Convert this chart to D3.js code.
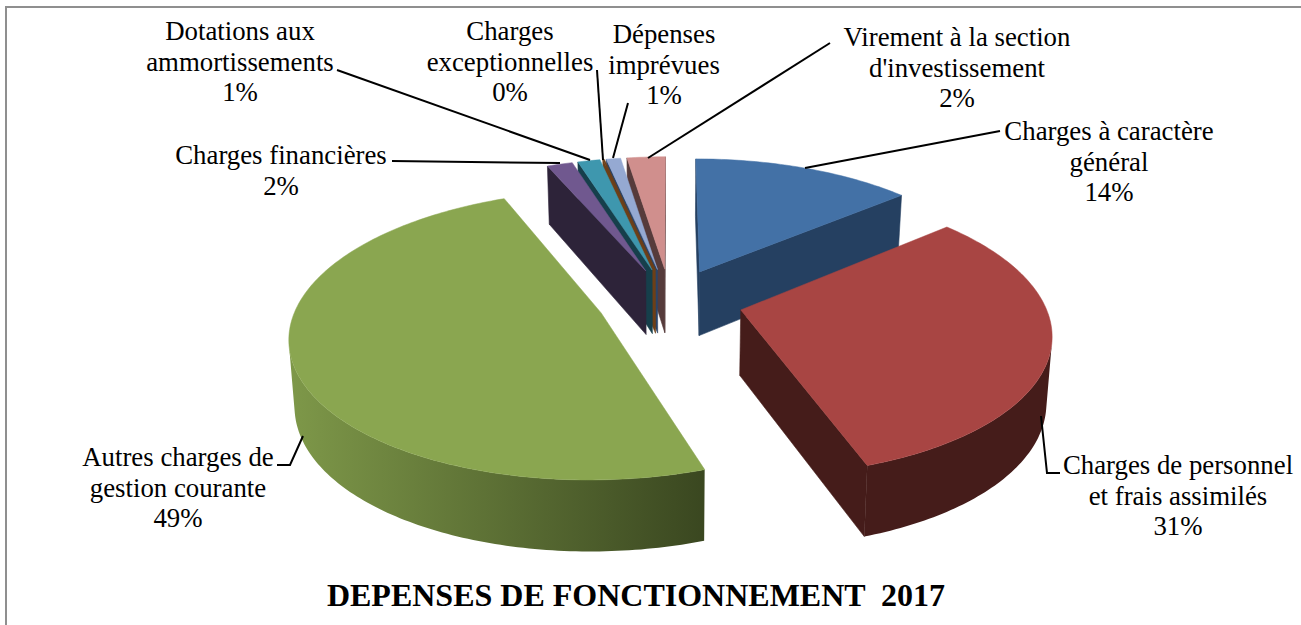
<!DOCTYPE html>
<html>
<head>
<meta charset="utf-8">
<style>
  html, body { margin: 0; padding: 0; background: #fff; }
  svg { display: block; }
  text { font-family: "Liberation Serif", serif; fill: #000; }
</style>
</head>
<body>
<svg id="ch" width="1301" height="625"></svg>
<script src="https://cdn.jsdelivr.net/npm/d3@7/dist/d3.min.js"></script>
<script>
// Depenses de fonctionnement 2017, exploded 3D pie

const categories = [
  ["Charges à caractère", "général"],
  ["Charges de personnel", "et frais assimilés"],
  ["Autres charges de", "gestion courante"],
  ["Charges financières"],
  ["Dotations aux", "ammortissements"],
  ["Charges", "exceptionnelles"],
  ["Dépenses", "imprévues"],
  ["Virement à la section", "d'investissement"]
];
const values = [13.8, 31.0, 48.8, 1.6, 1.4, 0.1, 0.9, 2.4];
const topColors = ["#4371a6", "#a84543", "#8aa650", "#70588f", "#3e97ae", "#6d3f17", "#95a9d2", "#d08f8d"];
const sideColors = [
  ["#254061", "#254061"],
  ["#451c1a", "#451c1a"],
  ["#7e9849", "#3a4720"],
  ["#2d2339", "#2d2339"],
  ["#163f4b", "#163f4b"],
  ["#6d3f17", "#6d3f17"],
  ["#2b4468", "#2b4468"],
  ["#563b3b", "#563b3b"]
];
const titleText = "DEPENSES DE FONCTIONNEMENT  2017";

/* Label placement: centre x, first baseline, leader polyline */
const labelLayout = [
  { x: 1109, y: 140, lead: [[1000, 131], [805, 168]] },
  { x: 1178, y: 474, lead: [[1060, 473], [1047, 473], [1041, 416]] },
  { x: 178, y: 466, lead: [[277, 465], [290, 465], [303, 436]] },
  { x: 281, y: 164, lead: [[392, 161], [560, 163]] },
  { x: 240, y: 40, lead: [[337, 70], [590, 160]] },
  { x: 510, y: 40, lead: [[597, 70], [603, 160]] },
  { x: 664, y: 43, lead: [[628, 103], [613, 158]] },
  { x: 957, y: 46, lead: [[830, 43], [648, 158]] }
];

const width = 1301;
const height = 625;

/* Camera for the tilted pie */
const centerX = 670;
const centerY = 301;
const radiusX = 303;
const radiusY = 138;
const persp = 0.15;
const explode = 0.24;
const depthBase = 65;
const depthSlope = 6;
const lean = 0.015;

const svg = d3.select("#ch");

/* Frame */
svg.append("path")
  .attr("d", "M6,625V7H1301")
  .attr("fill", "none")
  .attr("stroke", "#8f8f8f")
  .attr("stroke-width", 2);

const pie = d3.pie().sort(null).value((d) => d);
const arcs = pie(values);

const xScale = d3.scaleLinear().domain([-1, 1]).range([centerX - radiusX, centerX + radiusX]);
const yScale = d3.scaleLinear().domain([-1, 1]).range([centerY + radiusY, centerY - radiusY]);

const project = (u, v, z) => {
  const w = 1 + persp * v;
  let x = xScale(u / w);
  let y = yScale(v / w);
  y += z * (depthBase - depthSlope * v);
  x -= z * (x - centerX) * lean;
  return [x, y];
};

const line = d3.line();

const signedArea = (pts) => {
  let s = 0;
  pts.forEach((p, i) => {
    const q = pts[(i + 1) % pts.length];
    s += p[0] * q[1] - q[0] * p[1];
  });
  return s;
};

const slices = arcs.map((a, i) => {
  const mid = (a.startAngle + a.endAngle) / 2;
  return {
    i: i,
    start: a.startAngle,
    end: a.endAngle,
    offU: explode * Math.sin(mid),
    offV: explode * Math.cos(mid)
  };
});

const rim = (s, t, z) =>
  project(s.offU + Math.sin(t), s.offV + Math.cos(t), z);
const apex = (s, z) => project(s.offU, s.offV, z);

/* Far slices first */
const order = slices.slice().sort((a, b) => b.offV - a.offV);

const defs = svg.append("defs");

order.forEach((s) => {
  const g = svg.append("g");
  const steps = Math.max(4, Math.round((s.end - s.start) * 60));
  const angleAt = (k) => s.start + (s.end - s.start) * k / steps;

  const face = (pts, color) => {
    if (signedArea(pts) >= 0) return;
    g.append("path")
      .attr("d", line(pts) + "Z")
      .attr("fill", color)
      .attr("stroke", color)
      .attr("stroke-width", 0.6);
  };

  /* radial walls */
  face([apex(s, 0), rim(s, s.start, 0), rim(s, s.start, 1), apex(s, 1)], sideColors[s.i][0]);
  face([rim(s, s.end, 0), apex(s, 0), apex(s, 1), rim(s, s.end, 1)], sideColors[s.i][1]);

  /* outer wall: the part of the rim that faces the viewer */
  const shown = d3.range(steps).filter((k) => {
    const a = angleAt(k);
    const b = angleAt(k + 1);
    return signedArea([rim(s, a, 0), rim(s, b, 0), rim(s, b, 1), rim(s, a, 1)]) < 0;
  });
  if (shown.length) {
    const ks = shown.concat([shown[shown.length - 1] + 1]);
    const upper = ks.map((k) => rim(s, angleAt(k), 0));
    const lower = ks.map((k) => rim(s, angleAt(k), 1)).reverse();
    const xs = d3.extent(upper, (p) => p[0]);
    const gradId = "side" + s.i;
    const grad = defs.append("linearGradient")
      .attr("id", gradId)
      .attr("gradientUnits", "userSpaceOnUse")
      .attr("x1", xs[0]).attr("x2", xs[1])
      .attr("y1", 0).attr("y2", 0);
    grad.append("stop").attr("offset", 0).attr("stop-color", sideColors[s.i][0]);
    grad.append("stop").attr("offset", 1).attr("stop-color", sideColors[s.i][1]);
    g.append("path")
      .attr("d", line(upper.concat(lower)) + "Z")
      .attr("fill", "url(#" + gradId + ")");
  }

  /* top */
  const topPts = [apex(s, 0)].concat(d3.range(0, steps + 1).map((k) => rim(s, angleAt(k), 0)));
  g.append("path")
    .attr("d", line(topPts) + "Z")
    .attr("fill", topColors[s.i])
    .attr("stroke", topColors[s.i])
    .attr("stroke-width", 0.5);
});

/* Leaders and labels */
const total = d3.sum(values);
const pct = d3.format(".0%");

labelLayout.forEach((l, i) => {
  svg.append("path")
    .attr("d", line(l.lead))
    .attr("fill", "none")
    .attr("stroke", "#000")
    .attr("stroke-width", 2);

  const lines = categories[i].concat([pct(values[i] / total)]);
  const t = svg.append("text")
    .attr("text-anchor", "middle")
    .attr("font-size", 26.8);
  lines.forEach((txt, k) => {
    t.append("tspan")
      .attr("x", l.x)
      .attr("y", l.y + k * 30.5)
      .text(txt);
  });
});

svg.append("text")
  .attr("x", 636)
  .attr("y", 606)
  .attr("text-anchor", "middle")
  .attr("font-size", 32)
  .attr("font-weight", "bold")
  .style("white-space", "pre")
  .text(titleText);
</script>
</body>
</html>
